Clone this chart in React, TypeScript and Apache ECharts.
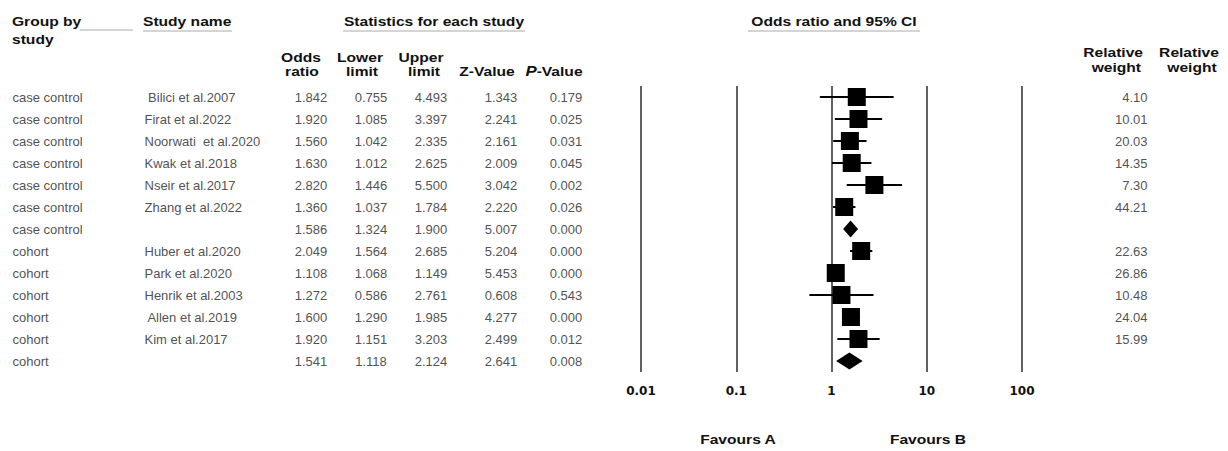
import React, { useEffect, useRef } from "react";
import * as echarts from "echarts";

// ---------- data ----------
const groups = [
  "case control", "case control", "case control", "case control", "case control", "case control", "case control",
  "cohort", "cohort", "cohort", "cohort", "cohort", "cohort",
];
const studyNames = [
  " Bilici et al.2007", "Firat et al.2022", "Noorwati  et al.2020", "Kwak et al.2018", "Nseir et al.2017",
  "Zhang et al.2022", "", "Huber et al.2020", "Park et al.2020", "Henrik et al.2003", " Allen et al.2019",
  "Kim et al.2017", "",
];
// 0 = individual study (square), 1 = subgroup summary (diamond)
const rowKinds = [0, 0, 0, 0, 0, 0, 1, 0, 0, 0, 0, 0, 1];
const oddsRatios = [1.842, 1.92, 1.56, 1.63, 2.82, 1.36, 1.586, 2.049, 1.108, 1.272, 1.6, 1.92, 1.541];
const lowerLimits = [0.755, 1.085, 1.042, 1.012, 1.446, 1.037, 1.324, 1.564, 1.068, 0.586, 1.29, 1.151, 1.118];
const upperLimits = [4.493, 3.397, 2.335, 2.625, 5.5, 1.784, 1.9, 2.685, 1.149, 2.761, 1.985, 3.203, 2.124];
const zValues = [1.343, 2.241, 2.161, 2.009, 3.042, 2.22, 5.007, 5.204, 5.453, 0.608, 4.277, 2.499, 2.641];
const pValues = [0.179, 0.025, 0.031, 0.045, 0.002, 0.026, 0.0, 0.0, 0.0, 0.543, 0.0, 0.012, 0.008];
const relativeWeights: (number | null)[] = [4.1, 10.01, 20.03, 14.35, 7.3, 44.21, null, 22.63, 26.86, 10.48, 24.04, 15.99, null];
const axisTicks = ["0.01", "0.1", "1", "10", "100"];

// ---------- layout ----------
const W = 1228;
const H = 451;
const TOP = 86;
const ROW_H = 22;
const FONT = "'Liberation Sans', Arial, sans-serif";
const AXIS_FONT = "'DejaVu Sans', sans-serif";
const TXT = "#222";
const HEAD = "#111";
const STRETCH = 1.2;
const COL = {
  group: 12,
  study: 144,
  or: 311,
  lower: 371,
  upper: 431,
  z: 501,
  p: 566,
  weight: 1148,
};

export default function App() {
  const ref = useRef<HTMLDivElement>(null);

  useEffect(() => {
    if (!ref.current) return;
    const chart = echarts.init(ref.current, undefined, { renderer: "svg" });
    const n = oddsRatios.length;
    const rows = oddsRatios.map((_, i) => String(i));
    const gridH = n * ROW_H;

    const textSeries = (
      x: number,
      texts: string[],
      align: "left" | "center" | "right"
    ) => ({
      type: "scatter",
      xAxisIndex: 1,
      yAxisIndex: 1,
      symbolSize: 1,
      silent: true,
      itemStyle: { color: "rgba(0,0,0,0)" },
      data: texts.map((t, i) => ({ value: [x, i], name: t })),
      label: {
        show: true,
        position: align === "left" ? "right" : align === "right" ? "left" : "inside",
        distance: 0,
        formatter: (p: any) => p.name,
        color: TXT,
        fontSize: 13,
        fontFamily: FONT,
      },
      emphasis: { disabled: true },
    });

    const f3 = (v: number) => v.toFixed(3);

    const headerText = (
      text: string,
      x: number,
      y: number,
      align: "left" | "center" | "right"
    ) => ({
      type: "text",
      x,
      y,
      scaleX: STRETCH,
      style: {
        text,
        fill: HEAD,
        font: `bold 13px ${FONT}`,
        textAlign: align,
        textVerticalAlign: "middle",
      },
    });
    const underline = (x1: number, x2: number, y: number) => ({
      type: "line",
      shape: { x1, y1: y, x2, y2: y },
      style: { stroke: "#aaa", lineWidth: 1 },
    });

    chart.setOption({
      animation: false,
      backgroundColor: "#fff",
      grid: [
        { left: 641, width: 381, top: TOP, height: gridH },
        { left: 0, width: W, top: TOP, height: gridH },
      ],
      xAxis: [
        {
          type: "log",
          logBase: 10,
          min: 0.01,
          max: 100,
          gridIndex: 0,
          axisLine: { show: false },
          axisTick: { show: false },
          splitLine: { show: true, lineStyle: { color: "#3a3a3a", width: 1.6 } },
          axisLabel: {
            margin: 13,
            fontSize: 12,
            fontWeight: "bold",
            color: HEAD,
            fontFamily: AXIS_FONT,
            formatter: (v: number) => {
              const idx = Math.round(Math.log10(v)) + 2;
              return axisTicks[idx] ?? String(v);
            },
          },
        },
        { type: "value", min: 0, max: W, gridIndex: 1, show: false },
      ],
      yAxis: [
        { type: "category", data: rows, inverse: true, gridIndex: 0, show: false },
        { type: "category", data: rows, inverse: true, gridIndex: 1, show: false },
      ],
      series: [
        {
          type: "custom",
          xAxisIndex: 0,
          yAxisIndex: 0,
          silent: true,
          encode: { x: [1, 2, 3], y: 0 },
          data: oddsRatios.map((v, i) => [i, v, lowerLimits[i], upperLimits[i], rowKinds[i]]),
          renderItem: (_params: any, api: any) => {
            const row = api.value(0);
            const c = api.coord([api.value(1), row]);
            const l = api.coord([api.value(2), row]);
            const h = api.coord([api.value(3), row]);
            if (api.value(4) === 1) {
              const hh = 8.5;
              return {
                type: "polygon",
                shape: {
                  points: [
                    [l[0], c[1]],
                    [c[0], c[1] - hh],
                    [h[0], c[1]],
                    [c[0], c[1] + hh],
                  ],
                },
                style: { fill: "#000" },
              };
            }
            const s = 18;
            return {
              type: "group",
              children: [
                {
                  type: "line",
                  shape: { x1: l[0], y1: c[1], x2: h[0], y2: c[1] },
                  style: { stroke: "#000", lineWidth: 2 },
                },
                {
                  type: "rect",
                  shape: { x: c[0] - s / 2, y: c[1] - s / 2, width: s, height: s },
                  style: { fill: "#000" },
                },
              ],
            };
          },
        },
        textSeries(COL.group, groups, "left"),
        textSeries(COL.study, studyNames, "left"),
        textSeries(COL.or, oddsRatios.map(f3), "center"),
        textSeries(COL.lower, lowerLimits.map(f3), "center"),
        textSeries(COL.upper, upperLimits.map(f3), "center"),
        textSeries(COL.z, zValues.map(f3), "center"),
        textSeries(COL.p, pValues.map(f3), "center"),
        textSeries(COL.weight, relativeWeights.map((w) => (w == null ? "" : w.toFixed(2))), "right"),
      ],
      graphic: [
        headerText("Group by", 12, 21, "left"),
        headerText("study", 12, 39, "left"),
        underline(80, 133, 30),
        headerText("Study name", 143, 21, "left"),
        underline(143, 232, 31),
        headerText("Statistics for each study", 434, 21, "center"),
        underline(343, 525, 31),
        headerText("Odds ratio and 95% CI", 834, 21, "center"),
        underline(748, 920, 31),
        headerText("Odds", 301, 57, "center"),
        headerText("ratio", 302, 71, "center"),
        headerText("Lower", 360, 57, "center"),
        headerText("limit", 362, 71, "center"),
        headerText("Upper", 421, 57, "center"),
        headerText("limit", 424, 71, "center"),
        headerText("Z-Value", 487, 71, "center"),
        {
          type: "text",
          x: 554,
          y: 71,
          scaleX: STRETCH,
          style: {
            text: "{i|P}{b|-Value}",
            textAlign: "center",
            textVerticalAlign: "middle",
            rich: {
              i: { font: `italic bold 14px ${FONT}`, fill: HEAD },
              b: { font: `bold 13px ${FONT}`, fill: HEAD },
            },
          },
        },
        headerText("Relative", 1143, 52, "right"),
        headerText("weight", 1141, 67, "right"),
        headerText("Relative", 1189, 52, "center"),
        headerText("weight", 1192, 67, "center"),
        headerText("Favours A", 738, 439, "center"),
        headerText("Favours B", 928, 439, "center"),
      ],
    });
    return () => chart.dispose();
  }, []);

  return (
    <div
      ref={ref}
      style={{ position: "fixed", left: 0, top: 0, width: W, height: H, background: "#fff" }}
    />
  );
}
